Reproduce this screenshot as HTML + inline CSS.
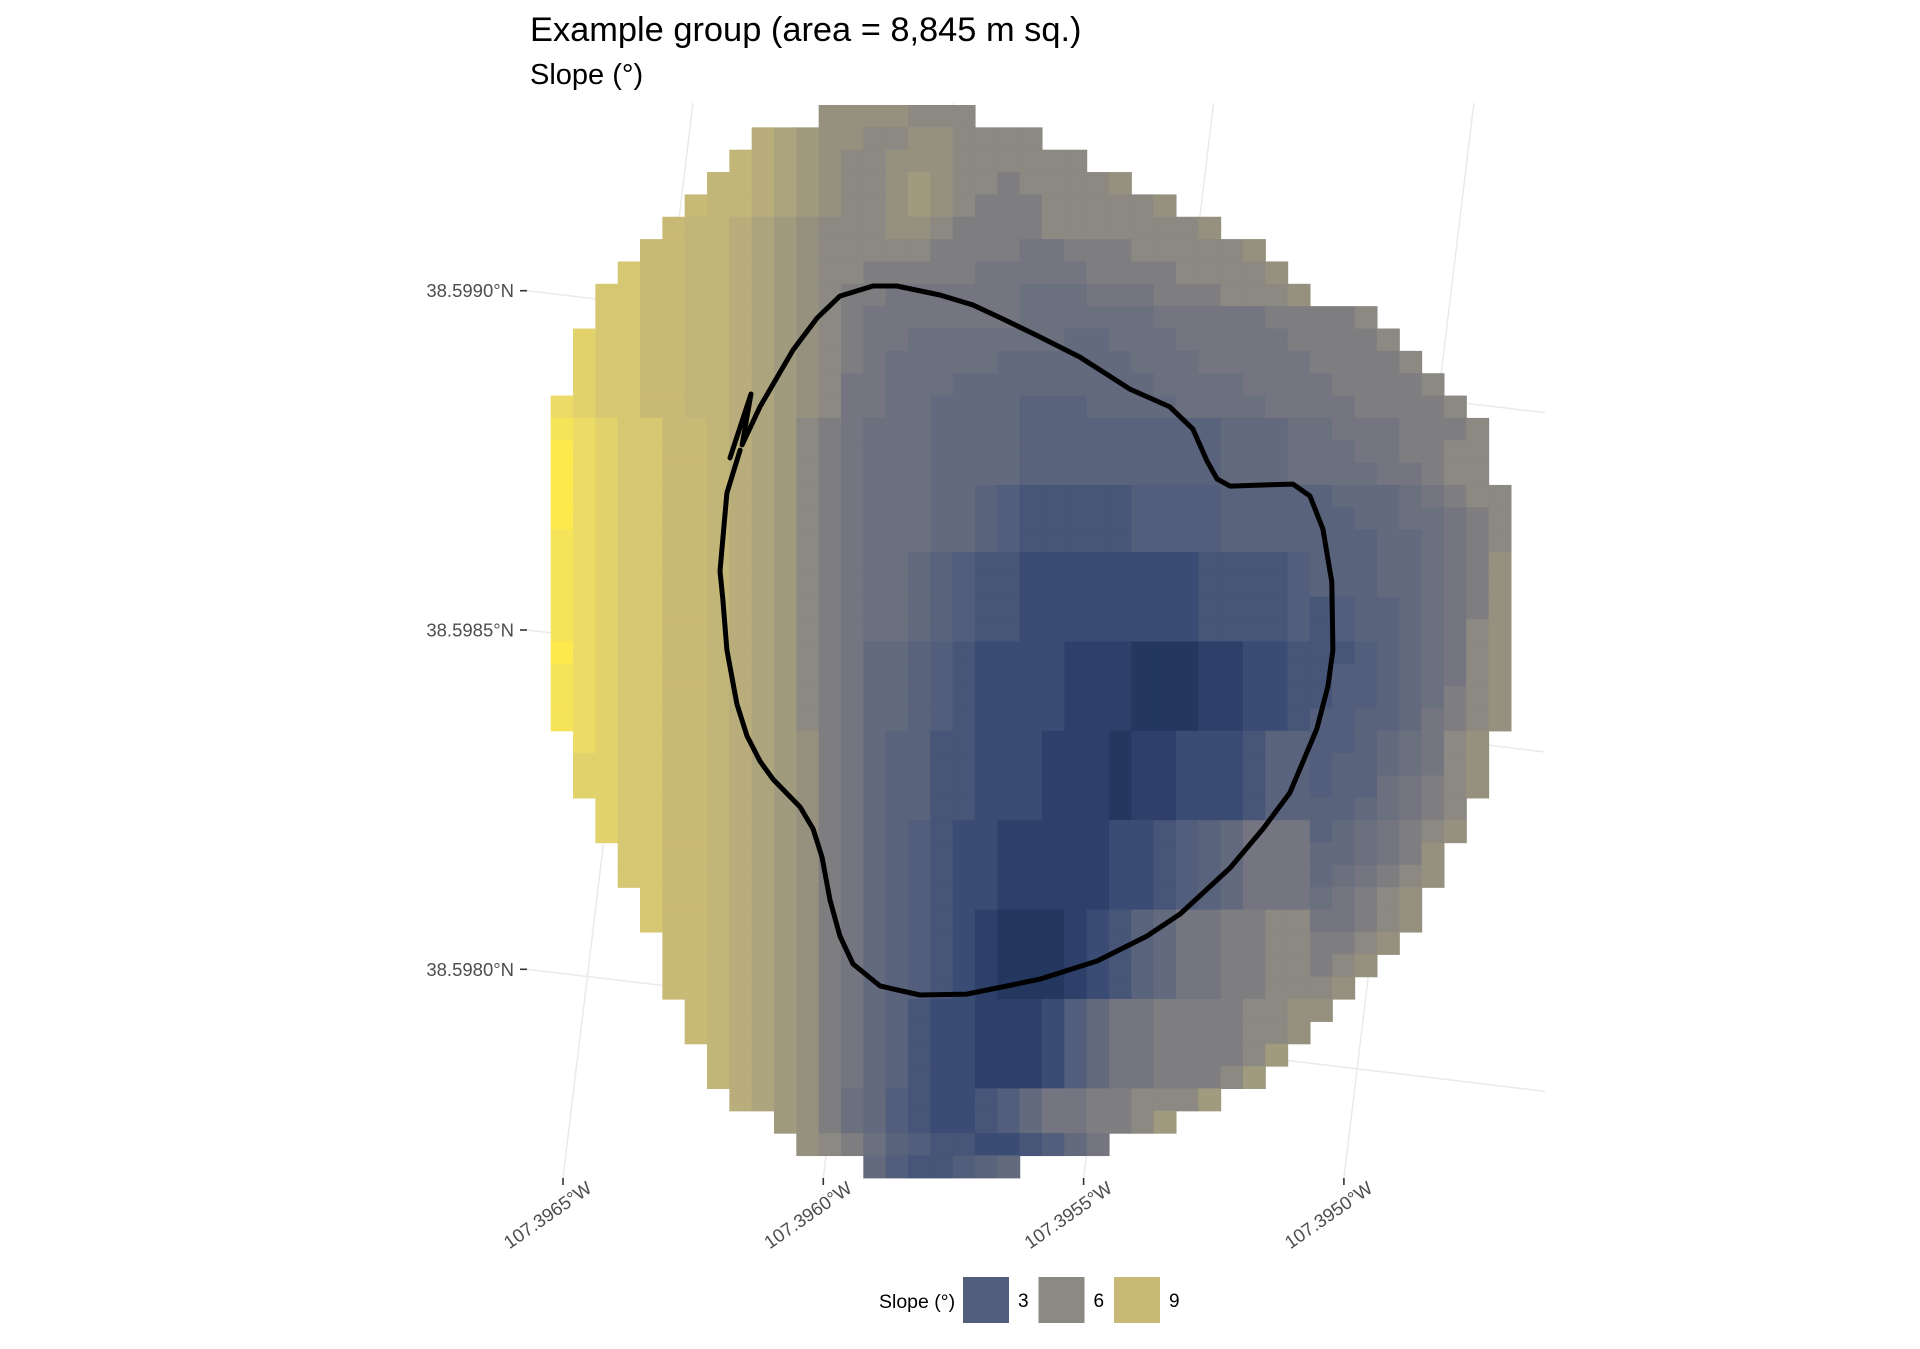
<!DOCTYPE html>
<html>
<head>
<meta charset="utf-8">
<style>
  html, body { margin: 0; padding: 0; background: #ffffff; }
  body { width: 1920px; height: 1344px; overflow: hidden; font-family: "Liberation Sans", Arial, sans-serif; }
  svg text { font-family: "Liberation Sans", Arial, sans-serif; }
</style>
</head>
<body>
<svg id="chart" width="1920" height="1344" viewBox="0 0 1920 1344" xmlns="http://www.w3.org/2000/svg">
  <text x="530" y="41" font-size="34.4" fill="#000">Example group (area = 8,845 m sq.)</text>
  <text x="530" y="84" font-size="29" fill="#000">Slope (°)</text>
  <g id="grid"></g>
  <g id="cells"></g>
  <g id="outline"></g>
  <g id="axes"></g>
  <g id="legend"></g>
</svg>
<script>
// ---- data ----
// raster slope values, one string per row starting at column rowStarts[r];
// each char encodes value = (code - 'a') * 0.5 degrees
const rowStarts = [12,9,8,7,6,5,4,3,2,2,1,1,1,0,0,0,0,0,0,0,0,0,0,0,0,0,0,0,1,1,1,2,2,3,3,4,4,5,5,5,6,6,7,7,8,10,11,14];
const rowCodes = [
 "nnnnmmm",
 "qponnmmnnmmmm",
 "rqponmmnnnmmmmmm",
 "rrqponmmnonmmlmmmmn",
 "srrqponmmnonmlllmmmmmn",
 "srrqponmmmnnmllllmmmmmmmn",
 "ssrrqponmmmmmllllkklllmmmmmn",
 "tssrrqponmmlllllkkkkkllllmmmmn",
 "ttssrrqponmllkkkkkkjjjkkklllmmmn",
 "ttssrrqponmlkkkkkkkjjjjjjkkkkkllllm",
 "uttssrrqponmlkkjjjjjjjiijjjkkkkkllllm",
 "uttssrrqponmlkjjjjjiiiiiijjjkkkkkllllm",
 "uttssrrqponmkkjjjiiiiiiiiijjjjkkkkllllm",
 "vuttssrrqponmkkjjiiiihhhiiiijjjjkkkkllllm",
 "wvuttssrqpomlkjjjiiiihhhhhhhhhiiijjkkklllm",
 "xvuttssrqpomlkjjjiiiihhhhhhhhhiiijjjkkllmm",
 "xvuttssrqpomlkjjjiiiihhhhhhhhhiiijjjjkklmm",
 "xvuttssrqpomlkjjjiihgfffffgggghhhhhiiijklmm",
 "xvuttssrqpomlkjjjiihgfffffgggghhhhhhiijjklm",
 "wvuttssrqpomlkjjjiihgfffffgggghhhhhhhiijklm",
 "wvuttssrqpomlkjjihgffeeeeeeeeffffghhhiijkln",
 "wvuttssrqpomlkjjihgffeeeeeeeeffffghhhiijkln",
 "wvuttssrqpomlkjjihgffeeeeeeeeffffgfghhijkln",
 "wvuttssrqpomlkjjihgffeeeeeeeeffffgfghhijkmn",
 "xvuttssrqpomlkiihgfeeeedddcccddeefffghijkmn",
 "wvuttssrqpomlkiihgfeeeedddcccddeeffgghijkmn",
 "wvuttssrqpomlkiihgfeeeedddcccddeeffgghijlmn",
 "wvuttssrqpomlkiihgfeeeedddcccddeefgghhiklmn",
 "vuttssrqponlkihhffeeedddcddeeefhhgghijkmn",
 "uuttssrqponlkihhffeeedddcddeeefhhghhijkmn",
 "uuttssrqponlkihhffeeedddcddeeefhhghhjklmn",
 "uttssrqponlkihhffeeedddcddeeefhhhhijklm",
 "uttssrqponlkihgfeedddddeefghikkkhijklmn",
 "ttssrqponlkihgfeedddddeefghikkkiijkln",
 "ttssrqponlkihgfeedddddeefghikkkijklmn",
 "tssrqponlkihgfeedddddeefghikkkjklmn",
 "tssrqponlkihgfedcccdefhikkllmmkklmn",
 "ssrqponlkihgfedcccdefhikkllmmllmn",
 "ssrqponlkihgfedcccdefhikkllmmlmn",
 "ssrqponlkihgfedcccdefhikkllmmmn",
 "srqponlkihfeedddegikkllllmmnn",
 "srqponlkihfeedddegikkllllmmn",
 "rqponlkihfeedddegikkllllmo",
 "rqponlkihfeedddegikklllmo",
 "qponljigfeefgikkllmmmo",
 "onljigfeefgikkllmo",
 "nmljhgffeefgik",
 "igffghi"
];
// group boundary in raster grid units (col, row)
const boundaryCols = [8.03,8.97,8.57,9.37,10.85,11.93,12.95,14.43,15.50,17.43,18.91,20.43,21.91,23.70,25.94,27.73,28.76,29.39,29.84,30.42,31.90,33.24,34.00,34.58,34.98,35.03,34.81,34.31,33.10,31.90,30.42,28.18,26.71,24.47,21.91,20.43,18.64,16.54,14.75,13.54,12.95,12.51,12.15,11.75,11.17,9.95,9.37,8.79,8.34,7.89,7.71,7.58,7.89,8.48];
const boundaryRows = [15.79,12.93,15.21,13.51,10.96,9.53,8.55,8.10,8.10,8.50,8.95,9.66,10.38,11.28,12.71,13.51,14.50,15.93,16.73,17.05,17.00,16.96,17.49,18.97,21.34,24.38,25.99,27.92,30.78,32.39,34.14,36.20,37.18,38.30,39.11,39.42,39.78,39.82,39.42,38.43,37.18,35.57,33.65,32.39,31.41,30.16,29.35,28.23,26.80,24.38,22.15,20.85,17.36,15.44];
const lonTicks = [-107.3965, -107.3960, -107.3955, -107.3950];
const lonTickLabels = ["107.3965°W", "107.3960°W", "107.3955°W", "107.3950°W"];
const latTicks = [38.5990, 38.5985, 38.5980];
const latTickLabels = ["38.5990°N", "38.5985°N", "38.5980°N"];
const legendValues = [3, 6, 9];
const legendLabels = ["3", "6", "9"];

// ---- scales ----
const X0 = 550.7, CW = 22.33, Y0 = 105, CH = 22.35;
function colX(c) { return X0 + c * CW; }
function rowY(r) { return Y0 + r * CH; }
function lonX(lon) { return 563 + (lon + 107.3965) / 0.0005 * 260.3; }
function latY(lat) { return 290.7 + (38.5990 - lat) / 0.0005 * 339.3; }
function decode(ch) { return (ch.charCodeAt(0) - 97) * 0.5; }

const stops = [
 [1.0,"#23375f"],[1.5,"#2e406a"],[2.0,"#3b4c74"],[2.5,"#475578"],[3.0,"#525e7b"],[3.5,"#5a637c"],
 [4.0,"#636a7d"],[4.5,"#6b707f"],[5.0,"#747580"],[5.5,"#7e7e80"],[6.0,"#8b8981"],[6.5,"#96917f"],
 [7.0,"#a09b7e"],[7.5,"#aca47d"],[8.0,"#b8ad7b"],[8.5,"#c2b578"],[9.0,"#c9b976"],[9.5,"#d6c772"],
 [10.0,"#e2d26c"],[10.5,"#ecdb66"],[11.0,"#f5e35a"],[11.5,"#fde94b"]
];
function hex2rgb(h){return [parseInt(h.substr(1,2),16),parseInt(h.substr(3,2),16),parseInt(h.substr(5,2),16)];}
function colorScale(v) {
  if (v <= stops[0][0]) return stops[0][1];
  for (let i = 1; i < stops.length; i++) {
    if (v <= stops[i][0]) {
      const t = (v - stops[i-1][0]) / (stops[i][0] - stops[i-1][0]);
      const a = hex2rgb(stops[i-1][1]), b = hex2rgb(stops[i][1]);
      return "rgb(" + a.map((x,k)=>Math.round(x + (b[k]-x)*t)).join(",") + ")";
    }
  }
  return stops[stops.length-1][1];
}

const NS = "http://www.w3.org/2000/svg";
function mk(tag, attrs, parent) {
  const el = document.createElementNS(NS, tag);
  for (const k in attrs) el.setAttribute(k, attrs[k]);
  parent.appendChild(el);
  return el;
}

// ---- graticule ----
const grid = document.getElementById("grid");
lonTicks.forEach((lon) => {
  const xb = lonX(lon);
  const ln = mk("line", {x1: xb, y1: 1178, x2: xb + 130, y2: 103, stroke: "#ebebeb", "stroke-width": 1.6}, grid);
  
  
});
latTicks.forEach((lat) => {
  const yl = latY(lat);
  const ln = mk("line", {x1: 527, y1: yl, x2: 1545, y2: yl + 122, stroke: "#ebebeb", "stroke-width": 1.6}, grid);
  
  
});

// ---- raster cells ----
const cells = document.getElementById("cells");
rowCodes.forEach((codes, r) => {
  for (let i = 0; i < codes.length; i++) {
    const c = rowStarts[r] + i;
    const rect = mk("rect", {x: colX(c).toFixed(2), y: rowY(r).toFixed(2), width: (CW + 0.6).toFixed(2), height: (CH + 0.6).toFixed(2), fill: colorScale(decode(codes[i]))}, cells);
    
    
  }
});

// ---- boundary ----
const outline = document.getElementById("outline");
const pts = boundaryCols.map((c, i) => colX(c).toFixed(1) + "," + rowY(boundaryRows[i]).toFixed(1)).join(" ");
const poly = mk("polyline", {points: pts, fill: "none", stroke: "#000", "stroke-width": 5, "stroke-linejoin": "round", "stroke-linecap": "round"}, outline);



// ---- axes ----
const axes = document.getElementById("axes");
lonTicks.forEach((lon, i) => {
  const x = lonX(lon);
  const t = mk("line", {x1: x, y1: 1178, x2: x, y2: 1185, stroke: "#333", "stroke-width": 1.6}, axes);
  
  
  const lbl = mk("text", {x: x + 30, y: 1191, "font-size": 18.5, fill: "#4d4d4d", "text-anchor": "end", transform: "rotate(-35 " + (x + 30) + " 1191)"}, axes);
  lbl.textContent = lonTickLabels[i];
  
  
});
latTicks.forEach((lat, i) => {
  const y = latY(lat);
  const t = mk("line", {x1: 520, y1: y, x2: 527, y2: y, stroke: "#333", "stroke-width": 1.6}, axes);
  
  
  const lbl = mk("text", {x: 514, y: y + 6.5, "font-size": 18.5, fill: "#4d4d4d", "text-anchor": "end"}, axes);
  lbl.textContent = latTickLabels[i];
  
  
});

// ---- legend ----
const legend = document.getElementById("legend");
const lt = mk("text", {x: 879, y: 1308, "font-size": 19.5, fill: "#000"}, legend);
lt.textContent = "Slope (°)";


legendValues.forEach((v, i) => {
  const x = 963 + i * 75.5;
  const sw = mk("rect", {x: x, y: 1277, width: 46, height: 46, fill: colorScale(v)}, legend);
  
  
  const tx = mk("text", {x: x + 55, y: 1307, "font-size": 19, fill: "#000"}, legend);
  tx.textContent = legendLabels[i];
  
  
});
</script>
</body>
</html>
